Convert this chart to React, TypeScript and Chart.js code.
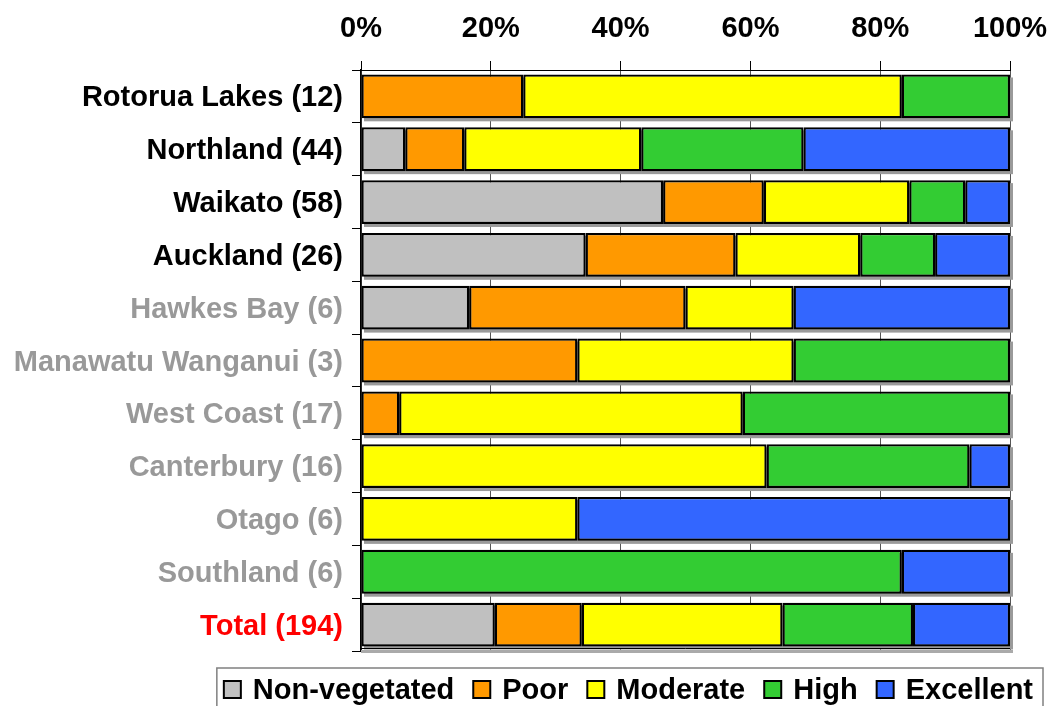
import React, { useEffect, useRef } from 'react';
import { Chart, registerables } from 'chart.js';

Chart.register(...registerables);

// ---- Data (counts of sites per condition class) ----
const categories = [
  'Rotorua Lakes (12)',
  'Northland (44)',
  'Waikato (58)',
  'Auckland (26)',
  'Hawkes Bay (6)',
  'Manawatu Wanganui (3)',
  'West Coast (17)',
  'Canterbury (16)',
  'Otago (6)',
  'Southland (6)',
  'Total (194)',
];
const labelColors = [
  '#000000', '#000000', '#000000', '#000000',
  '#999999', '#999999', '#999999', '#999999', '#999999', '#999999',
  '#FF0000',
];
const seriesNames = ['Non-vegetated', 'Poor', 'Moderate', 'High', 'Excellent'];
const seriesColors = ['#C0C0C0', '#FF9900', '#FFFF00', '#33CC33', '#3366FF'];

const nonVegetated = [0, 3, 27, 9, 1, 0, 0, 0, 0, 0, 40];
const poor = [3, 4, 9, 6, 2, 1, 1, 0, 0, 0, 26];
const moderate = [7, 12, 13, 5, 1, 1, 9, 10, 2, 0, 60];
const high = [2, 11, 5, 3, 0, 1, 7, 5, 0, 5, 39];
const excellent = [0, 14, 4, 3, 2, 0, 0, 1, 4, 1, 29];

const xTicks = [0, 20, 40, 60, 80, 100];

const FONT_FAMILY = "'Liberation Sans', Arial, Helvetica, sans-serif";
const FONT_SIZE = 29;

const seriesCounts = [nonVegetated, poor, moderate, high, excellent];
const totals = categories.map((_, i) => seriesCounts.reduce((s, arr) => s + arr[i], 0));

const shadowPlugin = {
  id: 'barShadow',
  beforeDatasetsDraw(chart: any) {
    const ctx = chart.ctx;
    const xs = chart.scales.x;
    const meta = chart.getDatasetMeta(0);
    const left = xs.getPixelForValue(0);
    const right = xs.getPixelForValue(100);
    ctx.save();
    ctx.fillStyle = '#9a9a9a';
    meta.data.forEach((el: any) => {
      const h = el.height;
      ctx.fillRect(left + 3, el.y - h / 2 + 3, right - left, h);
    });
    // bottom frame line
    const ca = chart.chartArea;
    ctx.fillStyle = '#aaaaaa';
    ctx.fillRect(ca.left, ca.bottom - 1, ca.right - ca.left + 3, 3);
    ctx.strokeStyle = '#000';
    ctx.lineWidth = 1;
    ctx.beginPath();
    ctx.moveTo(ca.left, ca.bottom - 2.5);
    ctx.lineTo(ca.right, ca.bottom - 2.5);
    ctx.stroke();
    ctx.restore();
  },
};

const legendPlugin = {
  id: 'boxedLegend',
  afterDraw(chart: any) {
    const ctx = chart.ctx;
    ctx.save();
    ctx.font = `bold ${FONT_SIZE}px ${FONT_FAMILY}`;
    const box = 17;
    const gapBT = 12;
    const gapItem = 19;
    const items = chart.data.datasets.map((d: any) => ({
      text: d.label as string,
      color: d.backgroundColor as string,
      w: ctx.measureText(d.label).width,
    }));
    const total = items.reduce((s: number, it: any) => s + box + gapBT + it.w, 0) + gapItem * (items.length - 1);
    const rightEnd = chart.width - 17;
    let x = rightEnd - total;
    const baseline = chart.height - 7;
    const boxTop = baseline - 18;

    // border
    ctx.strokeStyle = '#808080';
    ctx.lineWidth = 1.5;
    const bl = x - 7;
    const bt = chart.chartArea.bottom + 17;
    ctx.strokeRect(bl, bt, rightEnd + 10 - bl, 80);

    ctx.textBaseline = 'alphabetic';
    ctx.textAlign = 'left';
    items.forEach((it: any) => {
      ctx.fillStyle = it.color;
      ctx.fillRect(x, boxTop, box, box);
      ctx.strokeStyle = '#000';
      ctx.lineWidth = 2;
      ctx.strokeRect(x, boxTop, box, box);
      ctx.fillStyle = '#000';
      ctx.fillText(it.text, x + box + gapBT, baseline);
      x += box + gapBT + it.w + gapItem;
    });
    ctx.restore();
  },
};

export default function App() {
  const canvasRef = useRef<HTMLCanvasElement | null>(null);

  useEffect(() => {
    if (!canvasRef.current) return;
    const datasets = seriesNames.map((name, k) => ({
      label: name,
      data: seriesCounts[k].map((v, i) => (v / totals[i]) * 100),
      backgroundColor: seriesColors[k],
      borderColor: '#000000',
      borderWidth: 2.25,
      borderSkipped: false,
      barPercentage: 0.83,
      categoryPercentage: 1,
    }));

    const chart = new Chart(canvasRef.current, {
      type: 'bar',
      data: { labels: categories, datasets },
      plugins: [shadowPlugin, legendPlugin],
      options: {
        indexAxis: 'y',
        animation: false,
        responsive: false,
        maintainAspectRatio: false,
        layout: { padding: { left: 0, top: 0, right: 40, bottom: 55 } },
        plugins: {
          legend: { display: false },
          tooltip: { enabled: false },
          title: { display: false },
        },
        scales: {
          x: {
            position: 'top',
            stacked: true,
            min: 0,
            max: 100,
            afterBuildTicks: (s: any) => {
              s.ticks = xTicks.map((v) => ({ value: v }));
            },
            afterFit: (s: any) => {
              s.height = 70;
              s.paddingLeft = 0;
              s.paddingRight = 0;
            },
            ticks: {
              callback: (v: any) => `${v}%`,
              font: { family: FONT_FAMILY, size: FONT_SIZE, weight: 'bold' },
              color: '#000000',
              padding: 15,
              maxRotation: 0,
              autoSkip: false,
            },
            grid: {
              color: '#555555',
              lineWidth: 1,
              tickLength: 9,
              tickColor: '#000000',
              drawOnChartArea: true,
            },
            border: { display: true, color: '#000000', width: 1 },
          },
          y: {
            stacked: true,
            afterFit: (s: any) => {
              s.width = 361;
              s.paddingTop = 0;
              s.paddingBottom = 0;
            },
            ticks: {
              font: { family: FONT_FAMILY, size: FONT_SIZE, weight: 'bold' },
              color: (c: any) => labelColors[c.index] || '#000',
              padding: 9,
              labelOffset: 2,
              autoSkip: false,
            },
            grid: {
              drawOnChartArea: false,
              tickLength: 9,
              tickColor: '#000000',
              offset: true,
            },
            border: { display: true, color: '#000000', width: 1.5 },
          },
        },
      } as any,
    });
    return () => chart.destroy();
  }, []);

  return (
    <div style={{ position: 'absolute', left: 0, top: 0, width: 1050, height: 706, background: '#ffffff' }}>
      <canvas ref={canvasRef} width={1050} height={706} style={{ display: 'block' }} />
    </div>
  );
}
